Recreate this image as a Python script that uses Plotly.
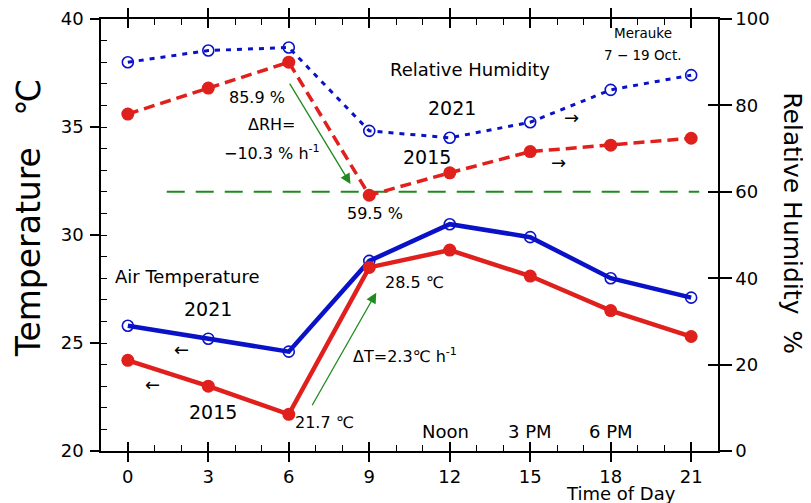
import plotly.graph_objects as go

hours = [0, 3, 6, 9, 12, 15, 18, 21]
temp_2021 = [25.8, 25.2, 24.6, 28.8, 30.5, 29.9, 28.0, 27.1]
temp_2015 = [24.2, 23.0, 21.7, 28.5, 29.3, 28.1, 26.5, 25.3]
rh_2021 = [90.0, 92.7, 93.4, 74.1, 72.5, 76.1, 83.6, 87.0]
rh_2015 = [78.0, 84.0, 90.0, 59.2, 64.4, 69.3, 70.8, 72.4]
ref_x = [1.45, 21.3]
ref_rh = [60, 60]

RED = "#e0201c"
BLUE = "#0a12c8"
GREEN = "#1f8a1f"
FONT = "DejaVu Sans"

fig = go.Figure()
fig.add_trace(go.Scatter(x=ref_x, y=ref_rh, yaxis="y2", mode="lines",
                         line=dict(color=GREEN, width=2, dash="18px,11px")))
fig.add_trace(go.Scatter(x=hours, y=rh_2021, yaxis="y2", mode="lines+markers",
                         line=dict(color=BLUE, width=3, dash="5px,6px"),
                         marker=dict(symbol="circle-open", size=11, color=BLUE, line=dict(width=1.6))))
fig.add_trace(go.Scatter(x=hours, y=rh_2015, yaxis="y2", mode="lines+markers",
                         line=dict(color=RED, width=3.5, dash="11px,6px"),
                         marker=dict(symbol="circle", size=13, color=RED)))
fig.add_trace(go.Scatter(x=hours, y=temp_2021, mode="lines+markers",
                         line=dict(color=BLUE, width=4.5),
                         marker=dict(symbol="circle-open", size=11, color=BLUE, line=dict(width=1.6))))
fig.add_trace(go.Scatter(x=hours, y=temp_2015, mode="lines+markers",
                         line=dict(color=RED, width=4.5),
                         marker=dict(symbol="circle", size=13, color=RED)))
# empty traces that activate the overlay tick axes
fig.add_trace(go.Scatter(x=[], y=[], xaxis="x2", yaxis="y3", showlegend=False))
fig.add_trace(go.Scatter(x=[], y=[], xaxis="x3", yaxis="y4", showlegend=False))

tickfont = dict(family=FONT, size=18, color="black")
fig.update_layout(
    width=803, height=495,
    margin=dict(l=93, r=93, t=11, b=52),
    paper_bgcolor="white", plot_bgcolor="white",
    showlegend=False,
    font=dict(family=FONT, color="black"),
    xaxis=dict(range=[-1, 22], tickvals=hours, ticks="outside", ticklen=9, tickwidth=1.5,
               tickcolor="black", showline=True, linecolor="black", linewidth=1.5,
               mirror="ticks", showgrid=False, zeroline=False, tickfont=tickfont,
               automargin=False),
    xaxis2=dict(range=[-1, 22], overlaying="x", anchor="y", tickvals=hours, ticks="inside",
                ticklen=9, tickwidth=1.5, tickcolor="black", showticklabels=False,
                showline=False, mirror="ticks", showgrid=False, zeroline=False, automargin=False),
    xaxis3=dict(range=[-1, 22], overlaying="x", anchor="y", tick0=0, dtick=1, ticks="inside",
                ticklen=6, tickwidth=1.2, tickcolor="black", showticklabels=False,
                showline=False, mirror="ticks", showgrid=False, zeroline=False, automargin=False),
    yaxis=dict(range=[20, 40], dtick=5, tick0=20, ticks="outside", ticklen=9, tickwidth=1.5,
               tickcolor="black", showline=True, linecolor="black", linewidth=1.5,
               showgrid=False, zeroline=False, tickfont=tickfont, automargin=False,
               ticklabelstandoff=3),
    yaxis4=dict(range=[20, 40], dtick=1, tick0=20, overlaying="y", side="left", anchor="x",
                ticks="inside", ticklen=6, tickwidth=1.2, tickcolor="black",
                showticklabels=False, showline=False, showgrid=False, zeroline=False,
                automargin=False),
    yaxis2=dict(range=[0, 100], dtick=20, tick0=0, overlaying="y", side="right", anchor="x",
                ticks="outside", ticklen=12, tickwidth=1.5, tickcolor="black",
                showline=True, linecolor="black", linewidth=1.5, showgrid=False,
                zeroline=False, tickfont=tickfont, automargin=False),
    yaxis3=dict(range=[0, 100], dtick=20, tick0=0, overlaying="y", side="right", anchor="x",
                ticks="inside", ticklen=10, tickwidth=1.5, tickcolor="black",
                showticklabels=False, showline=False, showgrid=False, zeroline=False,
                automargin=False),
)

def txt(x, y, text, size=18, yref="y", xanchor="center"):
    fig.add_annotation(x=x, y=y, xref="x", yref=yref, text=text, showarrow=False,
                       font=dict(family=FONT, size=size, color="black"),
                       xanchor=xanchor, yanchor="middle")

# RH texts
txt(12.75, 88.2, "Relative Humidity", 18, "y2")
txt(12.1, 79.4, "2021", 19, "y2")
txt(11.15, 68.1, "2015", 19, "y2")
txt(16.55, 77.3, "→", 18, "y2")
txt(16.06, 66.7, "→", 18, "y2")
txt(19.2, 96.8, "Merauke", 13.5, "y2")
txt(19.2, 91.7, "7 − 19 Oct.", 13.5, "y2")
txt(4.8, 81.9, "85.9 %", 16, "y2")
txt(5.39, 75.5, "ΔRH=", 16, "y2")
txt(5.39, 69.0, "−10.3 % h<sup>-1</sup>", 16, "y2")
txt(9.22, 54.9, "59.5 %", 16, "y2")
# Temperature texts
txt(2.19, 28.06, "Air Temperature", 18)
txt(2.97, 26.57, "2021", 19)
txt(2.0, 24.72, "←", 18)
txt(0.93, 23.06, "←", 18)
txt(3.16, 21.8, "2015", 19)
txt(7.32, 21.34, "21.7 ℃", 16)
txt(10.67, 27.78, "28.5 ℃", 16)
txt(10.33, 24.44, "ΔT=2.3℃ h<sup>-1</sup>", 16)
txt(11.86, 20.88, "Noon", 18)
txt(15.0, 20.88, "3 PM", 18)
txt(18.0, 20.88, "6 PM", 18)

fig.add_annotation(x=18.4, y=0, xref="x", yref="paper", yshift=-42, text="Time of Day",
                   showarrow=False, xanchor="center", yanchor="middle",
                   font=dict(family=FONT, size=18, color="black"))

# axis titles
fig.add_annotation(x=0, y=0.539, xref="paper", yref="paper", xshift=-73, text="Temperature   ℃",
                   textangle=-90, showarrow=False, xanchor="center", yanchor="middle",
                   font=dict(family=FONT, size=33, color="black"))
fig.add_annotation(x=1, y=0.527, xref="paper", yref="paper", xshift=75, text="Relative Humidity  %",
                   textangle=90, showarrow=False, xanchor="center", yanchor="middle",
                   font=dict(family=FONT, size=25, color="black"))

# green arrows
fig.add_annotation(x=8.3, y=61.8, xref="x", yref="y2", ax=6.0, ay=85.4, axref="x", ayref="y2",
                   text="", showarrow=True, arrowhead=2, arrowsize=1.6, arrowwidth=1.3,
                   arrowcolor=GREEN)
fig.add_annotation(x=9.26, y=27.33, xref="x", yref="y", ax=6.84, ay=22.05, axref="x", ayref="y",
                   text="", showarrow=True, arrowhead=2, arrowsize=1.6, arrowwidth=1.3,
                   arrowcolor=GREEN)

fig.write_html("out.html")
